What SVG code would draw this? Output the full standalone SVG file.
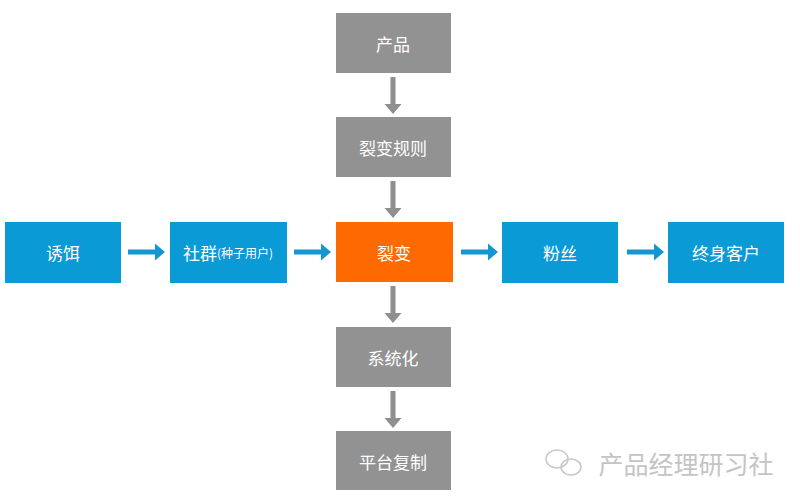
<svg xmlns="http://www.w3.org/2000/svg" width="800" height="503" viewBox="0 0 800 503">
<style>
.g{fill:#929292}.b{fill:#0a9ad6}.o{fill:#ff6a00}
text{font-family:"Noto Sans CJK SC","Liberation Sans",sans-serif;font-size:17px;fill:#fff;text-anchor:middle;dominant-baseline:central}
.ga{fill:#8f8f8f}.ba{fill:#1497d0}
</style>
<rect width="800" height="503" fill="#fff"/>
<g id="n-product"><rect class="g" x="336" y="13" width="115" height="60"/><text x="393" y="43">产品</text></g>
<g id="n-rule"><rect class="g" x="336" y="117" width="115" height="60"/><text x="393" y="147">裂变规则</text></g>
<g id="n-fission"><rect class="o" x="336" y="222" width="117" height="60"/><text x="394" y="252">裂变</text></g>
<g id="n-system"><rect class="g" x="336" y="327" width="115" height="60"/><text x="393" y="357">系统化</text></g>
<g id="n-copy"><rect class="g" x="336" y="431" width="115" height="59"/><text x="393" y="461">平台复制</text></g>
<g id="n-bait"><rect class="b" x="5" y="222" width="116" height="61"/><text x="63" y="252">诱饵</text></g>
<g id="n-community"><rect class="b" x="170" y="222" width="117" height="61"/><text x="228" y="252">社群<tspan font-size="12">(种子用户)</tspan></text></g>
<g id="n-fans"><rect class="b" x="502" y="222" width="116" height="61"/><text x="560" y="252">粉丝</text></g>
<g id="n-customer"><rect class="b" x="668" y="222" width="116" height="61"/><text x="726" y="252">终身客户</text></g>
<g id="connectors">
<path class="ga" d="M390.5 77h5v27h6l-8.5 10-8.5-10h6z"/>
<path class="ga" d="M390.5 181h5v27h6l-8.5 10-8.5-10h6z"/>
<path class="ga" d="M390.5 286h5v27h6l-8.5 10-8.5-10h6z"/>
<path class="ga" d="M390.5 391h5v27h6l-8.5 10-8.5-10h6z"/>
<path class="ba" d="M128 249.5h27v-6l10 8.5-10 8.5v-6h-27z"/>
<path class="ba" d="M294 249.5h27v-6l10 8.5-10 8.5v-6h-27z"/>
<path class="ba" d="M461 249.5h27v-6l10 8.5-10 8.5v-6h-27z"/>
<path class="ba" d="M627 249.5h27v-6l10 8.5-10 8.5v-6h-27z"/>
</g>
<g id="watermark" fill="none" stroke="#c8c8c8" stroke-width="1.5">
<ellipse cx="557" cy="459" rx="11" ry="9"/>
<ellipse cx="571" cy="467" rx="10" ry="8"/>
<text x="686" y="463" style="fill:#c4c4c4;font-size:25px;stroke:none">产品经理研习社</text>
</g>
</svg>
